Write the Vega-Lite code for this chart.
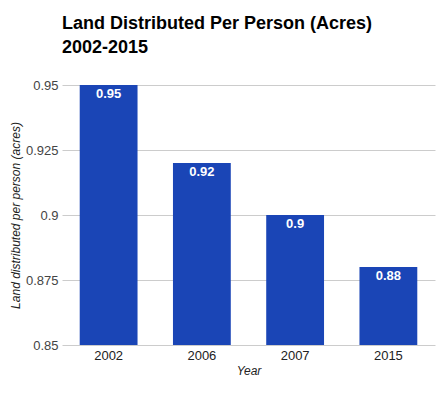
{
  "$schema": "https://vega.github.io/schema/vega-lite/v6.json",
  "autosize": "none",
  "width": 373,
  "height": 260,
  "padding": {"left": 62, "top": 85, "right": 8, "bottom": 53},
  "background": "white",
  "title": {
    "text": ["Land Distributed Per Person (Acres)", "2002-2015"],
    "anchor": "start",
    "frame": "group",
    "font": "Liberation Sans",
    "fontSize": 18,
    "fontWeight": "bold",
    "color": "#000000",
    "lineHeight": 24,
    "offset": 22
  },
  "data": {
    "values": [
      {"Year": "2002", "value": 0.95},
      {"Year": "2006", "value": 0.92},
      {"Year": "2007", "value": 0.9},
      {"Year": "2015", "value": 0.88}
    ]
  },
  "config": {
    "view": {"stroke": null},
    "font": "Liberation Sans"
  },
  "encoding": {
    "x": {
      "field": "Year",
      "type": "nominal",
      "scale": {"paddingInner": 0.38, "paddingOuter": 0.19},
      "axis": {
        "title": "Year",
        "titleFont": "Liberation Sans",
        "titleFontStyle": "italic",
        "titleFontWeight": "normal",
        "titleFontSize": 12,
        "titleColor": "#222222",
        "titlePadding": 3,
        "labelAngle": 0,
        "labelFont": "Liberation Sans",
        "labelFontSize": 13,
        "labelColor": "#222222",
        "labelPadding": 4,
        "ticks": false,
        "domain": false,
        "grid": false
      }
    },
    "y": {
      "field": "value",
      "type": "quantitative",
      "scale": {"domain": [0.85, 0.95], "zero": false, "nice": false},
      "axis": {
        "title": "Land distributed per person (acres)",
        "titleFont": "Liberation Sans",
        "titleFontStyle": "italic",
        "titleFontWeight": "normal",
        "titleFontSize": 12,
        "titleColor": "#222222",
        "titlePadding": 3,
        "values": [0.85, 0.875, 0.9, 0.925, 0.95],
        "labelExpr": "'' + datum.value",
        "labelFont": "Liberation Sans",
        "labelFontSize": 13,
        "labelColor": "#444444",
        "labelPadding": 4,
        "ticks": false,
        "domain": false,
        "grid": true,
        "gridColor": "#cccccc",
        "gridWidth": 1
      }
    }
  },
  "layer": [
    {
      "mark": {"type": "bar", "color": "#1a45b6"},
      "encoding": {"y2": {"datum": 0.85}}
    },
    {
      "mark": {
        "type": "text",
        "color": "white",
        "fontWeight": "bold",
        "fontSize": 13,
        "font": "Liberation Sans",
        "baseline": "top",
        "dy": 3
      },
      "encoding": {"text": {"field": "value", "type": "quantitative"}}
    },
    {
      "mark": {"type": "rule", "color": "#aaaaaa"},
      "encoding": {"y": {"datum": 0.85}}
    }
  ]
}
